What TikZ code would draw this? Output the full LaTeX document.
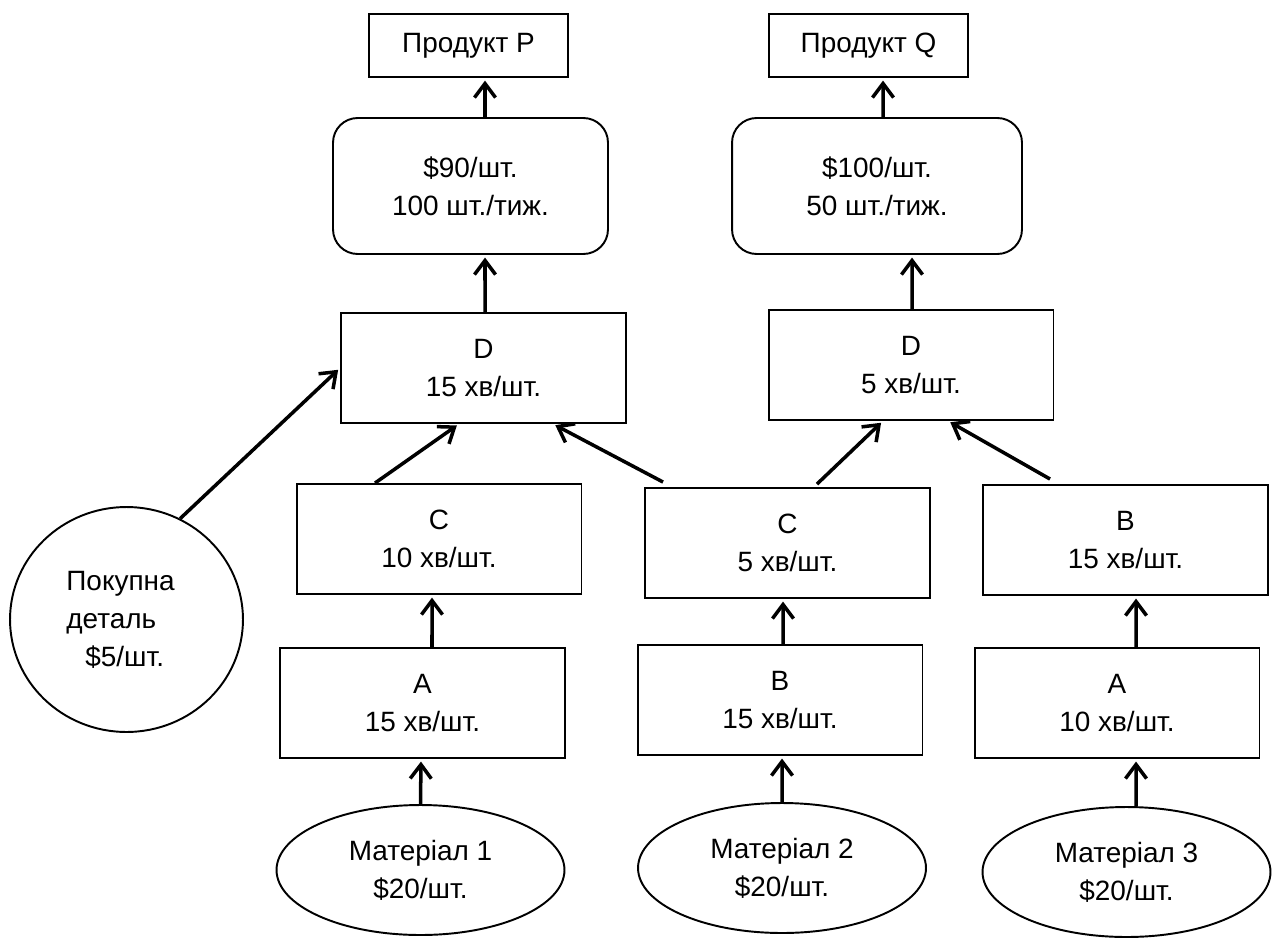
\documentclass[tikz,border=0pt]{standalone}
\usepackage{fontspec}
\setmainfont{Liberation Sans}
\usepackage{tikz}
\usetikzlibrary{positioning, shapes.geometric, arrows.meta, calc}

\begin{document}
\begin{tikzpicture}[x=0.02cm, y=-0.02cm,
    font=\fontsize{15.9pt}{21.6pt}\selectfont,
    box/.style={draw, line width=1.1pt, align=center, minimum width=5.7cm, minimum height=2.2cm},
    price/.style={box, rounded corners=14pt, minimum height=2.72cm},
    source/.style={draw, ellipse, line width=1.1pt, align=center, minimum width=5.76cm, minimum height=2.6cm},
    flow/.style={-{Straight Barb[length=8pt,width=12pt]}, line width=2pt, shorten >=1.5pt}]
    \useasboundingbox (0,0) rectangle (1273,939);

    % Draw the products and their prices
    \node[box, minimum width=3.98cm, minimum height=1.26cm] (prodP) at (468.5,45.5) {Продукт P};
    \node[box, minimum width=3.98cm, minimum height=1.26cm] (prodQ) at (868.5,45.5) {Продукт Q};
    \node[price, minimum width=5.5cm] (priceP) at (470.5,186) {\$90/шт.\\100 шт./тиж.};
    \node[price, minimum width=5.8cm] (priceQ) at (877,186) {\$100/шт.\\50 шт./тиж.};

    % Draw the operations
    \node[box] (opD1) at (483.5,368) {D\\15 хв/шт.};
    \node[box] (opD2) at (911,365) {D\\5 хв/шт.};
    \node[box] (opC1) at (439,539) {C\\10 хв/шт.};
    \node[box] (opC2) at (787.5,543) {C\\5 хв/шт.};
    \node[box] (opB3) at (1125.5,540) {B\\15 хв/шт.};
    \node[box] (opA1) at (422.5,703) {A\\15 хв/шт.};
    \node[box] (opB2) at (780,700) {B\\15 хв/шт.};
    \node[box] (opA3) at (1117,703) {A\\10 хв/шт.};

    % Draw the raw materials and the bought part
    \node[source] (mat1) at (420.5,870) {Матеріал 1\\\$20/шт.};
    \node[source] (mat2) at (782,868) {Матеріал 2\\\$20/шт.};
    \node[source] (mat3) at (1126.5,872) {Матеріал 3\\\$20/шт.};
    \node[draw, ellipse, line width=1.1pt, align=left, minimum width=4.66cm, minimum height=4.5cm] (part) at (126.5,619.5)
        {Покупна\hspace*{0.24cm}\\деталь\\\hspace*{0.38cm}\$5/шт.};

    % Draw the vertical flows
    \draw[flow] (mat1.north) -- ([xshift=-0.03cm]opA1.south);
    \draw[flow] ([xshift=0.19cm]opA1.north) -- ([xshift=-0.14cm]opC1.south);
    \draw[flow] (mat2.north) -- ([xshift=0.04cm]opB2.south);
    \draw[flow] ([xshift=0.06cm]opB2.north) -- ([xshift=-0.09cm]opC2.south);
    \draw[flow] ([xshift=0.19cm]mat3.north) -- ([xshift=0.38cm]opA3.south);
    \draw[flow] ([xshift=0.38cm]opA3.north) -- ([xshift=0.21cm]opB3.south);
    \draw[flow] ([xshift=0.03cm]opD1.north) -- ([xshift=0.29cm]priceP.south);
    \draw[flow] ([xshift=0.29cm]priceP.north) -- ([xshift=0.33cm]prodP.south);
    \draw[flow] ([xshift=0.02cm]opD2.north) -- ([xshift=0.7cm]priceQ.south);
    \draw[flow] ([xshift=0.12cm]priceQ.north) -- ([xshift=0.29cm]prodQ.south);

    % Draw the diagonal flows
    \draw[flow] ([xshift=-1.28cm]opC1.north) -- ([xshift=-0.49cm]opD1.south);
    \draw[flow] ([xshift=-2.49cm, yshift=0.1cm]opC2.north) -- ([xshift=1.39cm]opD1.south);
    \draw[flow] ([xshift=0.59cm, yshift=0.06cm]opC2.north) -- ([xshift=-0.56cm]opD2.south);
    \draw[flow] ([xshift=-1.51cm, yshift=0.1cm]opB3.north) -- ([xshift=0.74cm]opD2.south);
    \draw[flow] (part.62) -- (opD1.west);
\end{tikzpicture}
\end{document}
